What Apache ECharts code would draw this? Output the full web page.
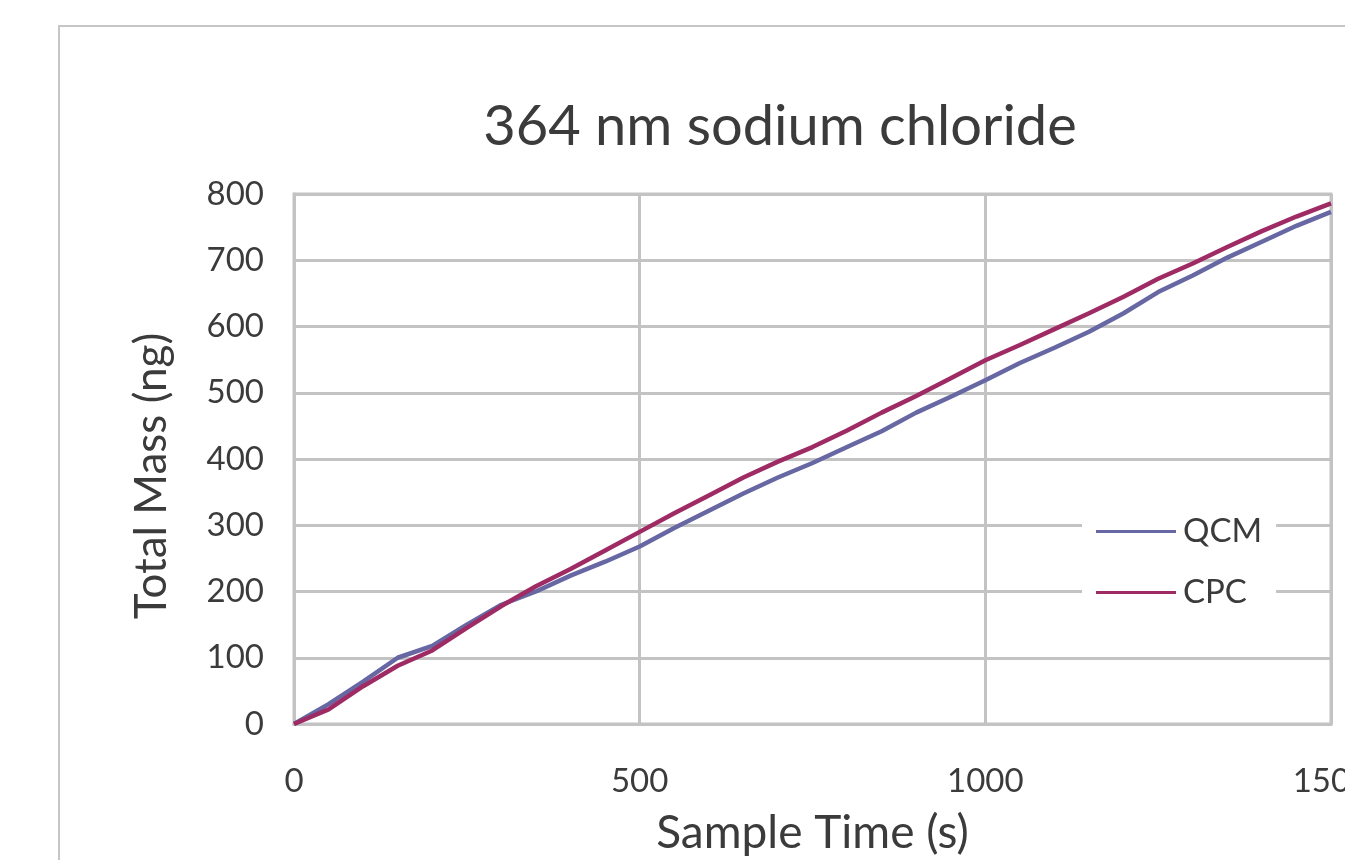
<!DOCTYPE html>
<html>
<head>
<meta charset="utf-8">
<title>364 nm sodium chloride</title>
<script src="https://cdn.jsdelivr.net/npm/echarts@6/dist/echarts.min.js"></script>
<style>
  html, body { margin: 0; padding: 0; background: #fff; overflow: hidden; }
  #chart {
    position: absolute;
    left: 58px;
    top: 25px;
    width: 1440px;
    height: 900px;
    border: 2px solid #c6c6c6;
  }
</style>
</head>
<body>
<div id="chart"></div>
<script>
// sample time (s)
const sampleTime = [0, 50, 100, 150, 200, 250, 300, 350, 400, 450, 500, 550, 600, 650, 700,
  750, 800, 850, 900, 950, 1000, 1050, 1100, 1150, 1200, 1250, 1300, 1350, 1400, 1450, 1500];
// total mass (ng)
const qcm = [0, 30, 64, 100, 118, 150, 180, 200, 224, 245, 268, 296, 322, 348, 372,
  394, 418, 442, 470, 494, 519, 545, 568, 592, 620, 652, 677, 704, 728, 752, 773];
const cpc = [0, 22, 57, 88, 111, 145, 178, 208, 234, 262, 290, 318, 345, 372, 396,
  418, 443, 470, 495, 522, 549, 572, 596, 620, 645, 672, 695, 720, 744, 766, 786];
const seriesNames = ["QCM", "CPC"];
const seriesColors = ["#6667a3", "#9e2b63"];

const font = "Lato, 'Open Sans', sans-serif";
const textColor = "#3b3b3b";
const gridColor = "#c3c3c3";

function pairs(ys) {
  return sampleTime.map((t, i) => [t, ys[i]]);
}

const chart = echarts.init(document.getElementById("chart"));
chart.setOption({
  animation: false,
  title: {
    text: "364 nm sodium chloride",
    left: "center",
    top: 67,
    textStyle: {
      fontFamily: font,
      fontSize: 56,
      fontWeight: "normal",
      color: textColor,
    },
  },
  grid: {
    left: 234,
    top: 167,
    width: 1037,
    height: 530,
    show: true,
    borderColor: gridColor,
    borderWidth: 3,
    containLabel: false,
  },
  legend: {
    orient: "vertical",
    left: 1022,
    top: 488,
    data: seriesNames,
    icon: "rect",
    itemWidth: 80,
    itemHeight: 3,
    itemGap: 28,
    padding: [0, 14, 0, 14],
    backgroundColor: "#fff",
    textStyle: {
      fontFamily: font,
      fontSize: 33,
      color: textColor,
      padding: [0, 0, 0, 2],
    },
  },
  xAxis: {
    type: "value",
    min: 0,
    max: 1500,
    interval: 500,
    name: "Sample Time (s)",
    nameLocation: "middle",
    nameGap: 86,
    nameTextStyle: { fontFamily: font, fontSize: 46, color: textColor },
    axisLine: { show: true, lineStyle: { color: gridColor, width: 3 } },
    axisTick: { show: false },
    axisLabel: {
      margin: 41,
      fontFamily: font,
      fontSize: 33,
      color: textColor,
      formatter: (v) => String(v),
    },
    splitLine: { show: true, lineStyle: { color: gridColor, width: 3 } },
  },
  yAxis: {
    type: "value",
    min: 0,
    max: 800,
    interval: 100,
    name: "Total Mass (ng)",
    nameLocation: "middle",
    nameGap: 120,
    nameTextStyle: {
      fontFamily: font,
      fontSize: 44,
      color: textColor,
      padding: [0, 34, 0, 0],
    },
    axisLine: { show: true, lineStyle: { color: gridColor, width: 3 } },
    axisTick: { show: false },
    axisLabel: {
      margin: 30,
      fontFamily: font,
      fontSize: 33,
      color: textColor,
      formatter: (v) => String(v),
    },
    splitLine: { show: true, lineStyle: { color: gridColor, width: 3 } },
  },
  series: seriesNames.map((name, i) => ({
    name: name,
    type: "line",
    data: pairs(i === 0 ? qcm : cpc),
    showSymbol: false,
    symbol: "none",
    color: seriesColors[i],
    lineStyle: { color: seriesColors[i], width: 4.5 },
    z: i === 0 ? 2 : 3,
  })),
});
</script>
</body>
</html>
